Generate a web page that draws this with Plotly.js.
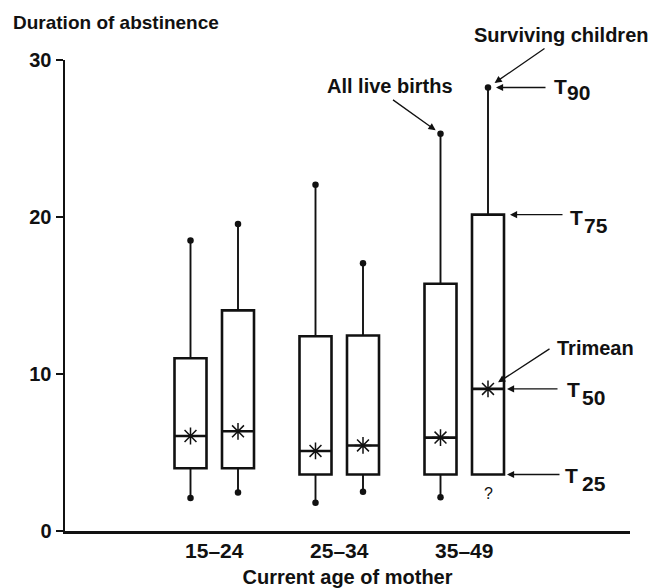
<!DOCTYPE html>
<html><head><meta charset="utf-8">
<script src="https://cdn.plot.ly/plotly-3.0.1.min.js"></script>
<style>html,body{margin:0;padding:0;background:#fff}</style>
</head><body>
<div id="chart" style="width:652px;height:588px"></div>
<script>
// ---- data ----
const categories = ['15–24', '25–34', '35–49'];
const yTickVals = [0, 10, 20, 30];

// All live births
const allLower   = [2.1, 1.8, 2.15];
const allQ1      = [4.0, 3.6, 3.6];
const allMedian  = [6.05, 5.1, 5.95];
const allTrimean = [6.05, 5.1, 5.95];
const allQ3      = [11.0, 12.4, 15.75];
const allUpper   = [18.5, 22.05, 25.3];

// Surviving children
const survLower   = [2.45, 2.5, null];
const survQ1      = [4.0, 3.6, 3.6];
const survMedian  = [6.35, 5.45, 9.05];
const survTrimean = [6.35, 5.45, 9.05];
const survQ3      = [14.05, 12.45, 20.15];
const survUpper   = [19.55, 17.05, 28.25];

// ---- styling / layout constants ----
const INK = '#111';
const FONT = 'Liberation Sans, Arial, sans-serif';
const groupPos = categories.map((c, i) => i + 1);
const OFF = 0.19, BW = 0.256;
const xAll = groupPos.map(g => g - OFF);
const xSurv = groupPos.map(g => g + OFF);

function boxTrace(x, q1, med, q3) {
  return {type: 'box', x: x, q1: q1, median: med, q3: q3,
    lowerfence: q1, upperfence: q3, width: BW, whiskerwidth: 0,
    fillcolor: '#fff', line: {color: INK, width: 2.6}, boxpoints: false,
    hoverinfo: 'skip', showlegend: false};
}
function whiskerTrace(x, q1, q3, lo, hi) {
  const xs = [], ys = [];
  x.forEach((xi, i) => {
    xs.push(xi, xi, null); ys.push(q3[i], hi[i], null);
    if (lo[i] != null) { xs.push(xi, xi, null); ys.push(lo[i], q1[i], null); }
  });
  return {type: 'scatter', mode: 'lines', x: xs, y: ys,
    line: {color: INK, width: 1.9}, hoverinfo: 'skip', showlegend: false};
}
function dotTrace(x, lo, hi) {
  const xs = [], ys = [];
  x.forEach((xi, i) => {
    xs.push(xi); ys.push(hi[i]);
    if (lo[i] != null) { xs.push(xi); ys.push(lo[i]); }
  });
  return {type: 'scatter', mode: 'markers', x: xs, y: ys,
    marker: {symbol: 'circle', size: 6.5, color: INK},
    hoverinfo: 'skip', showlegend: false, cliponaxis: false};
}
function starTrace(x, t) {
  return {type: 'scatter', mode: 'markers', x: x, y: t,
    marker: {symbol: 'asterisk-open', size: 14, color: INK, line: {color: INK, width: 1.5}},
    hoverinfo: 'skip', showlegend: false};
}

const data = [
  boxTrace(xAll, allQ1, allMedian, allQ3),
  boxTrace(xSurv, survQ1, survMedian, survQ3),
  whiskerTrace(xAll, allQ1, allQ3, allLower, allUpper),
  whiskerTrace(xSurv, survQ1, survQ3, survLower, survUpper),
  dotTrace(xAll, allLower, allUpper),
  dotTrace(xSurv, survLower, survUpper),
  starTrace(xAll, allTrimean),
  starTrace(xSurv, survTrimean)
];

// plot area geometry (pixels) for paper-positioned labels
const L = 65, T = 60, W = 565, H = 471;
const px = v => (v - L) / W;
const py = v => (T + H - v) / H;

function label(text, x, y, xanchor, size) {
  return {text: text, xref: 'paper', yref: 'paper', x: px(x), y: py(y),
    xanchor: xanchor, yanchor: 'middle', showarrow: false,
    font: {family: FONT, size: size || 20, color: INK, weight: 'bold'}};
}
function arrow(x, y, ax, ay, standoff) {
  return {text: ' ', xref: 'x', yref: 'y', x: x, y: y, ax: ax, ay: ay,
    showarrow: true, arrowhead: 2, arrowsize: 1.1, arrowwidth: 1.3,
    arrowcolor: INK, standoff: standoff, startstandoff: 0,
    font: {size: 1}};
}

const last = categories.length - 1;
const annotations = [
  label('Duration of abstinence', 11, 22, 'left', 19),
  label('All live births', 455, 86, 'right'),
  label('Surviving children', 472, 35, 'left'),
  label('Trimean', 555, 348, 'left'),
  label('T', 552, 86, 'left', 21), label('90', 565, 92, 'left', 21),
  label('T', 568, 217, 'left', 21), label('75', 582, 225, 'left', 21),
  label('T', 565, 389, 'left', 21), label('50', 580, 397, 'left', 21),
  label('T', 563, 475, 'left', 21), label('25', 580, 483, 'left', 21),
  arrow(xAll[last], allUpper[last], -49, -35, 6),
  arrow(xSurv[last], survUpper[last], 58, -40, 8),
  arrow(xSurv[last], survUpper[last], 59, 0, 8),
  arrow(xSurv[last], survQ3[last], 76, 0, 22),
  arrow(xSurv[last], survMedian[last], 71, 0, 19),
  arrow(xSurv[last], survQ1[last], 73, 0, 19),
  arrow(xSurv[last], survTrimean[last], 63, -41, 12),
  {text: '?', xref: 'x', yref: 'y', x: xSurv[last], y: 2.4, showarrow: false,
   font: {family: FONT, size: 16, color: INK}}
];

const layout = {
  width: 652, height: 588,
  margin: {l: L, r: 652 - L - W, t: T, b: 588 - T - H},
  paper_bgcolor: '#fff', plot_bgcolor: '#fff',
  boxmode: 'overlay', showlegend: false,
  font: {family: FONT, color: INK},
  xaxis: {
    range: [-0.194, 4.326], tickvals: groupPos, ticktext: categories,
    ticks: '', showgrid: false, zeroline: false,
    showline: true, linecolor: INK, linewidth: 2.5,
    tickfont: {family: FONT, size: 21, color: INK, weight: 'bold'},
    ticklabelstandoff: -1,
    title: {text: 'Current age of mother', font: {family: FONT, size: 20, color: INK, weight: 'bold'}, standoff: 12}
  },
  yaxis: {
    range: [0, 30], tickvals: yTickVals, ticks: 'outside', ticklen: 7, tickwidth: 2,
    tickcolor: INK, showgrid: false, zeroline: false,
    showline: true, linecolor: INK, linewidth: 2.5,
    tickfont: {family: FONT, size: 20, color: INK, weight: 'bold'}
  },
  annotations: annotations
};

Plotly.newPlot('chart', data, layout, {displayModeBar: false, staticPlot: true});
</script>
</body></html>
